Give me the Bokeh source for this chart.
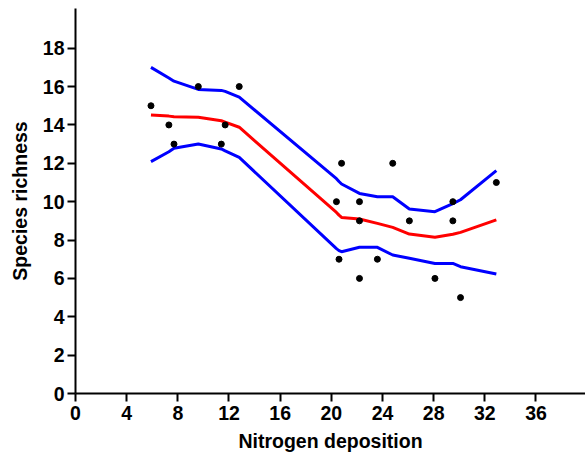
from bokeh.plotting import figure
from bokeh.models import FixedTicker, Range1d
from bokeh.embed import file_html
from bokeh.resources import INLINE

# Observed data points
pt_x = [5.9, 7.3, 7.7, 9.6, 11.4, 11.7, 12.8, 20.4, 20.6, 20.8, 22.2, 22.2, 22.2,
        23.6, 24.8, 26.1, 28.1, 29.5, 29.5, 30.1, 32.9]
pt_y = [15, 14, 13, 16, 13, 14, 16, 10, 7, 12, 10, 9, 6,
        7, 12, 9, 6, 10, 9, 5, 11]

# Fitted curve and confidence bands
fit_x = [5.9, 7.3, 7.7, 9.6, 11.4, 11.7, 12.8, 20.4, 20.6, 20.8, 22.2, 23.6,
         24.8, 26.1, 28.1, 29.5, 30.1, 32.9]
fit_mid = [14.52, 14.46, 14.43, 14.4, 14.22, 14.15, 13.88, 9.44, 9.3, 9.18, 9.1,
           8.87, 8.66, 8.31, 8.14, 8.3, 8.4, 9.05]
fit_upper = [17.0, 16.45, 16.28, 15.85, 15.8, 15.75, 15.45, 11.2, 11.05, 10.92,
             10.43, 10.26, 10.26, 9.62, 9.48, 9.9, 10.1, 11.62]
fit_lower = [12.09, 12.6, 12.78, 13.01, 12.75, 12.65, 12.31, 7.55, 7.45, 7.39,
             7.62, 7.62, 7.22, 7.05, 6.78, 6.78, 6.61, 6.23]

x_ticks = [0, 4, 8, 12, 16, 20, 24, 28, 32, 36]
y_ticks = [0, 2, 4, 6, 8, 10, 12, 14, 16, 18]

p = figure(frame_width=510, frame_height=385,
           x_range=Range1d(0, 39.87), y_range=Range1d(0, 20.07),
           output_backend="svg", toolbar_location=None,
           min_border_left=75, min_border_top=8, min_border_right=0,
           min_border_bottom=58)
p.outline_line_color = None
p.grid.visible = False
p.background_fill_color = "white"

p.line(fit_x, fit_upper, line_color="#0000FF", line_width=3)
p.line(fit_x, fit_lower, line_color="#0000FF", line_width=3)
p.line(fit_x, fit_mid, line_color="#FF0000", line_width=3)
p.scatter(pt_x, pt_y, size=6, fill_color="black", line_color="black")

for ax in (p.xaxis[0], p.yaxis[0]):
    ax.axis_line_width = 2
    ax.axis_line_color = "black"
    ax.major_tick_line_width = 2
    ax.major_tick_line_color = "black"
    ax.major_tick_out = 8
    ax.major_tick_in = 0
    ax.minor_tick_line_color = None
    ax.major_label_text_font = "Liberation Sans"
    ax.major_label_text_font_style = "bold"
    ax.major_label_text_font_size = "19.5px"
    ax.major_label_text_color = "black"
    ax.axis_label_text_font = "Liberation Sans"
    ax.axis_label_text_font_style = "bold"
    ax.axis_label_text_font_size = "19.5px"
    ax.axis_label_text_color = "black"

p.xaxis[0].ticker = FixedTicker(ticks=x_ticks)
p.yaxis[0].ticker = FixedTicker(ticks=y_ticks)
p.xaxis[0].axis_label = "Nitrogen deposition"
p.yaxis[0].axis_label = "Species richness"
p.xaxis[0].major_label_standoff = 4
p.yaxis[0].major_label_standoff = 3
p.xaxis[0].axis_label_standoff = 7
p.yaxis[0].axis_label_standoff = 9

open("out.html", "w").write(file_html(p, INLINE))
